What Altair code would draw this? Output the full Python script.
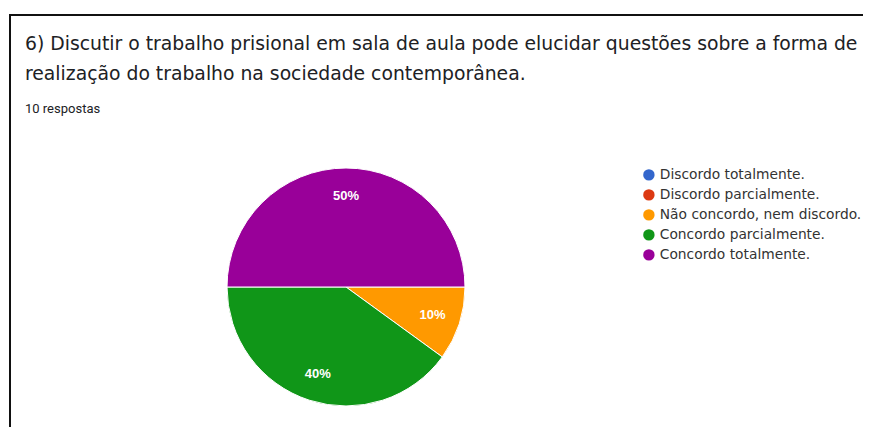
import math
import altair as alt
import pandas as pd

categories = [
    "Discordo totalmente.",
    "Discordo parcialmente.",
    "Não concordo, nem discordo.",
    "Concordo parcialmente.",
    "Concordo totalmente.",
]
counts = [0, 0, 1, 4, 5]
colors = ["#3366cc", "#dc3912", "#ff9900", "#109618", "#990099"]

title_lines = [
    "6) Discutir o trabalho prisional em sala de aula pode elucidar questões sobre a forma de",
    "realização do trabalho na sociedade contemporânea.",
]
subtitle = "10 respostas"

total = sum(counts)
df = pd.DataFrame({
    "cat": categories,
    "count": counts,
    "idx": list(range(len(categories))),
    "pct": [f"{round(100 * c / total)}%" if c > 0 else "" for c in counts],
})

W, H = 855, 419
CX, CY = 338, 279
R = 119
HFONT = "DejaVu Sans"

theta_scale = alt.Scale(range=[math.pi / 2, math.pi / 2 + 2 * math.pi])

base = alt.Chart(df)

pie = base.mark_arc(outerRadius=R, stroke="white", strokeWidth=1).encode(
    theta=alt.Theta("count:Q", stack=True, scale=theta_scale),
    color=alt.Color(
        "cat:N",
        scale=alt.Scale(domain=categories, range=colors),
        legend=alt.Legend(
            title=None,
            orient="none",
            legendX=634,
            legendY=160,
            symbolType="circle",
            symbolSize=130,
            symbolStrokeWidth=0,
            labelFont="DejaVu Sans",
            labelFontSize=13.8,
            labelColor="#333333",
            labelOffset=4,
            rowPadding=5,
            padding=0,
            labelLimit=400,
        ),
    ),
    order=alt.Order("idx:Q"),
    x=alt.value(CX),
    y=alt.value(CY),
)

labels = base.transform_filter("datum.count > 0").mark_text(
    radius=91, font="Arial", fontSize=13, color="white", fontWeight="bold"
).encode(
    theta=alt.Theta("count:Q", stack=True, scale=theta_scale),
    order=alt.Order("idx:Q"),
    text="pct:N",
    x=alt.value(CX),
    y=alt.value(CY),
)

one = alt.Data(values=[{"a": 1}])

hdr1 = alt.Chart(one).mark_text(
    align="left", baseline="alphabetic", font=HFONT, fontSize=18.8, color="#202124"
).encode(x=alt.value(17), y=alt.value(42), text=alt.value(title_lines[0]))
hdr2 = alt.Chart(one).mark_text(
    align="left", baseline="alphabetic", font=HFONT, fontSize=18.8, color="#202124"
).encode(x=alt.value(17), y=alt.value(72), text=alt.value(title_lines[1]))
sub = alt.Chart(one).mark_text(
    align="left", baseline="alphabetic", font="Roboto", fontSize=13, color="#202124"
).encode(x=alt.value(17), y=alt.value(105), text=alt.value(subtitle))

left_border = alt.Chart(one).mark_rule(color="#111111", strokeWidth=2).encode(
    x=alt.value(2), y=alt.value(6), y2=alt.value(H)
)
top_border = alt.Chart(one).mark_rule(color="#111111", strokeWidth=2).encode(
    x=alt.value(1), x2=alt.value(W), y=alt.value(7)
)

chart = alt.layer(left_border, top_border, hdr1, hdr2, sub, pie, labels).properties(
    width=W,
    height=H,
    padding=0,
    autosize=alt.AutoSizeParams(type="none"),
    background="white",
).configure_view(stroke=None)

chart.save("out.html", embed_options={"renderer": "svg", "actions": False})
